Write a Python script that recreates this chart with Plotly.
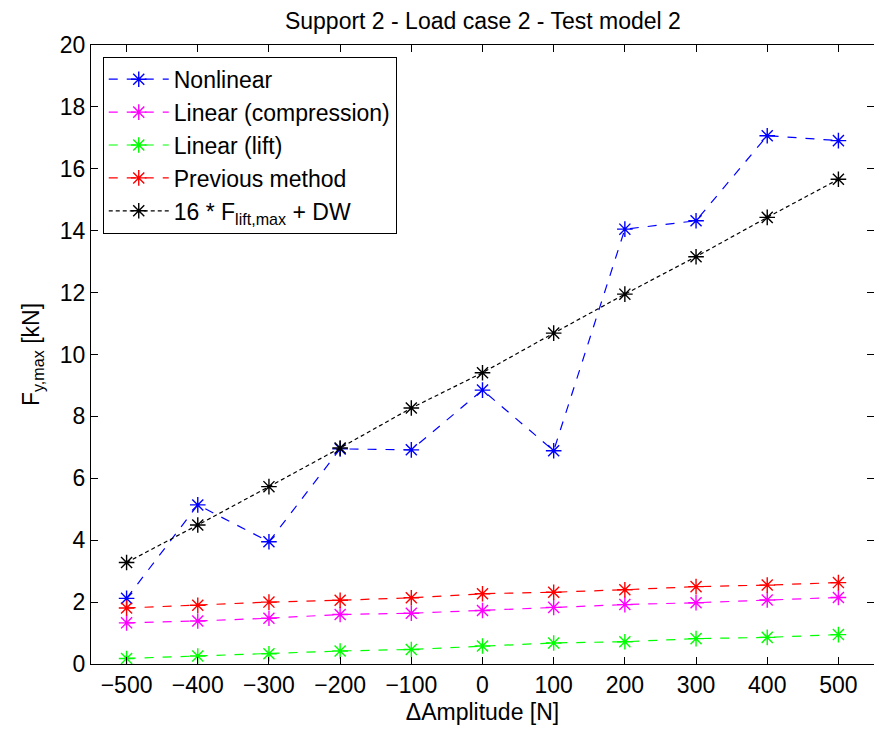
import plotly.graph_objects as go

amplitude = [-500, -400, -300, -200, -100, 0, 100, 200, 300, 400, 500]
nonlinear = [2.12, 5.14, 3.95, 6.95, 6.92, 8.85, 6.89, 14.05, 14.32, 17.07, 16.91]
linear_comp = [1.33, 1.39, 1.48, 1.60, 1.64, 1.73, 1.83, 1.92, 1.98, 2.07, 2.15]
linear_lift = [0.18, 0.26, 0.33, 0.42, 0.47, 0.58, 0.68, 0.72, 0.82, 0.86, 0.95]
previous = [1.81, 1.90, 2.00, 2.06, 2.14, 2.27, 2.32, 2.40, 2.50, 2.55, 2.63]
combined = [3.28, 4.49, 5.73, 6.98, 8.27, 9.41, 10.69, 11.95, 13.16, 14.43, 15.66]

series = [
    ("Nonlinear", nonlinear, "#0000FF", "dash"),
    ("Linear (compression)", linear_comp, "#FF00FF", "dash"),
    ("Linear (lift)", linear_lift, "#00FF00", "dash"),
    ("Previous method", previous, "#FF0000", "dash"),
    ("16 * F<sub>lift,max</sub> + DW", combined, "#000000", "4px,3px"),
]

font = "Liberation Sans, Arial, sans-serif"
FS = 23
fig = go.Figure()
for name, vals, col, dash in series:
    fig.add_trace(go.Scatter(
        x=amplitude, y=vals, name=name, mode="lines+markers",
        line=dict(color=col, width=1.2, dash=dash),
        marker=dict(symbol="asterisk-open", size=13, color=col,
                    line=dict(color=col, width=1.4)),
    ))

axis_common = dict(
    showline=True, linecolor="black", linewidth=1, mirror="ticks",
    ticks="inside", ticklen=7, tickcolor="black", tickwidth=1,
    showgrid=False, zeroline=False,
    tickfont=dict(family=font, size=FS, color="black"),
)

fig.update_layout(
    width=874, height=733,
    margin=dict(l=91, r=0, t=45, b=69),
    paper_bgcolor="white", plot_bgcolor="white",
    title=dict(text="Support 2 - Load case 2 - Test model 2",
               x=0.5525, xanchor="center", y=0.972, yanchor="middle",
               font=dict(family=font, size=FS, color="black")),
    xaxis=dict(range=[-550, 550], tickvals=amplitude,
               title=dict(text="ΔAmplitude [N]", standoff=7,
                          font=dict(family=font, size=FS, color="black")),
               **axis_common),
    yaxis=dict(range=[0, 20], tickvals=list(range(0, 21, 2)),
               title=dict(text="F<sub>y,max</sub> [kN]", standoff=13,
                          font=dict(family=font, size=FS, color="black")),
               **axis_common),
    legend=dict(x=0.015, y=0.981, xanchor="left", yanchor="top",
                bordercolor="black", borderwidth=1, bgcolor="white",
                font=dict(family=font, size=FS, color="black"),
                tracegroupgap=0, itemwidth=60),
    showlegend=True,
)

fig.write_html("out.html")
